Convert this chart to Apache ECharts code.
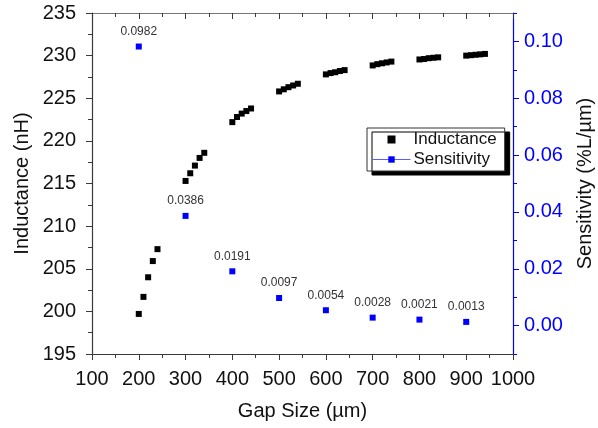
<!DOCTYPE html>
<html>
<head>
<meta charset="utf-8">
<script src="https://cdn.jsdelivr.net/npm/echarts@6/dist/echarts.min.js"></script>
<style>
  html, body { margin: 0; padding: 0; background: #fff; }
  #chart { width: 598px; height: 428px; }
</style>
</head>
<body>
<div id="chart"></div>
<script>
// Gap sizes (µm) and measured inductance (nH)
const gapInductance = [200, 210, 220, 230, 240, 300, 310, 320, 330, 340,
  400, 410, 420, 430, 440, 500, 510, 520, 530, 540,
  600, 610, 620, 630, 640, 700, 710, 720, 730, 740,
  800, 810, 820, 830, 840, 900, 910, 920, 930, 940];
const inductance = [199.7, 201.7, 204.0, 205.9, 207.3, 215.3, 216.2, 217.1, 218.0, 218.6,
  222.2, 222.8, 223.2, 223.5, 223.8, 225.8, 226.05, 226.3, 226.5, 226.7,
  227.8, 227.95, 228.05, 228.2, 228.3, 228.85, 229.0, 229.1, 229.2, 229.3,
  229.55, 229.6, 229.7, 229.75, 229.8, 230.0, 230.05, 230.1, 230.15, 230.2];

// Sensitivity (%L/µm) per gap size
const gapSensitivity = [200, 300, 400, 500, 600, 700, 800, 900];
const sensitivity = [0.0982, 0.0386, 0.0191, 0.0097, 0.0054, 0.0028, 0.0021, 0.0013];

// Axis tick values
const sensTicks = [0, 0.02, 0.04, 0.06, 0.08, 0.10];

const FONT = 'Liberation Sans, Arial, sans-serif';
const AXIS_GREY = '#3a3a3a';
const BLUE = '#0000ff';

const chart = echarts.init(document.getElementById('chart'), null, { renderer: 'canvas' });

const xCommon = {
  type: 'value', min: 100, max: 1000, interval: 100,
  splitLine: { show: false }
};

chart.setOption({
  animation: false,
  backgroundColor: '#fff',
  textStyle: { fontFamily: FONT },
  grid: { left: 92, right: 85, top: 13, bottom: 74, containLabel: false, outerBoundsMode: 'none' },
  legend: {
    orient: 'vertical',
    left: 367, top: 128,
    padding: [3, 8, 3, 5],
    itemGap: 3,
    itemWidth: 38, itemHeight: 8,
    backgroundColor: '#fff',
    borderColor: '#333', borderWidth: 1, borderRadius: 0,
    shadowColor: '#000', shadowBlur: 0, shadowOffsetX: 5, shadowOffsetY: 4,
    textStyle: { fontFamily: FONT, fontSize: 17, color: '#111', padding: [0, 0, 0, -2] },
    data: [
      { name: 'Inductance', icon: 'path://M0,0h10v10h-10z' },
      { name: 'Sensitivity', lineStyle: { opacity: 1, width: 1, color: '#5c5cff' } }
    ]
  },
  xAxis: [
    Object.assign({}, xCommon, {
      position: 'bottom',
      name: 'Gap Size (µm)', nameLocation: 'middle', nameGap: 47, nameMoveOverlap: false,
      nameTextStyle: { fontFamily: FONT, fontSize: 20, color: '#111' },
      axisLine: { show: true, onZero: false, lineStyle: { color: AXIS_GREY, width: 1.2 } },
      axisTick: { show: true, inside: false, length: 6, lineStyle: { color: AXIS_GREY } },
      minorTick: { show: true, splitNumber: 2, length: 4, lineStyle: { color: AXIS_GREY } },
      axisLabel: { margin: 15, fontSize: 20, color: '#111', fontFamily: FONT, formatter: v => String(v) }
    }),
    Object.assign({}, xCommon, {
      position: 'top',
      axisLine: { show: true, onZero: false, lineStyle: { color: '#777', width: 1.2 } },
      axisTick: { show: true, inside: true, length: 6, lineStyle: { color: AXIS_GREY } },
      minorTick: { show: true, splitNumber: 2, length: 4, lineStyle: { color: AXIS_GREY } },
      axisLabel: { show: false }
    })
  ],
  yAxis: [
    {
      type: 'value', position: 'left', min: 195, max: 235, interval: 5,
      name: 'Inductance (nH)', nameLocation: 'middle', nameGap: 60, nameRotate: 90, nameMoveOverlap: false,
      nameTextStyle: { fontFamily: FONT, fontSize: 20, color: '#111' },
      splitLine: { show: false },
      axisLine: { show: true, onZero: false, lineStyle: { color: AXIS_GREY, width: 1.2 } },
      axisTick: { show: true, inside: false, length: 6, lineStyle: { color: AXIS_GREY } },
      minorTick: { show: true, splitNumber: 2, length: 4, lineStyle: { color: AXIS_GREY } },
      axisLabel: { margin: 16, fontSize: 20, color: '#111', fontFamily: FONT }
    },
    {
      type: 'value', position: 'right', min: -0.01, max: 0.11, interval: 0.01,
      name: 'Sensitivity (%L/µm)', nameLocation: 'middle', nameGap: 62, nameRotate: 90, nameMoveOverlap: false,
      nameTextStyle: { fontFamily: FONT, fontSize: 20, color: '#111' },
      splitLine: { show: false },
      axisLine: { show: true, onZero: false, lineStyle: { color: BLUE, width: 1.2 } },
      axisTick: { show: true, inside: false, length: 6, customValues: sensTicks, lineStyle: { color: BLUE } },
      axisLabel: {
        margin: 11, fontSize: 20, color: BLUE, fontFamily: FONT,
        customValues: sensTicks,
        formatter: v => v.toFixed(2)
      }
    },
    {
      // minor ticks for the sensitivity axis
      type: 'value', position: 'right', min: -0.01, max: 0.11, interval: 0.01,
      splitLine: { show: false },
      axisLine: { show: false, onZero: false },
      axisTick: { show: true, inside: false, length: 4, lineStyle: { color: BLUE } },
      axisLabel: { show: false }
    }
  ],
  series: [
    {
      name: 'Inductance', type: 'scatter',
      xAxisIndex: 0, yAxisIndex: 0,
      symbol: 'rect', symbolSize: 6,
      itemStyle: { color: '#000', opacity: 1 },
      data: gapInductance.map((g, i) => [g, inductance[i]])
    },
    {
      name: 'Sensitivity', type: 'line',
      xAxisIndex: 0, yAxisIndex: 1,
      symbol: 'rect', symbolSize: 6, showAllSymbol: true,
      lineStyle: { width: 1, opacity: 0, color: '#5c5cff' },
      itemStyle: { color: BLUE, opacity: 1 },
      label: {
        show: true, position: 'top', distance: 6,
        fontFamily: FONT, fontSize: 12, color: '#333',
        formatter: p => p.value[1].toFixed(4)
      },
      data: gapSensitivity.map((g, i) => [g, sensitivity[i]])
    }
  ]
});
</script>
</body>
</html>
